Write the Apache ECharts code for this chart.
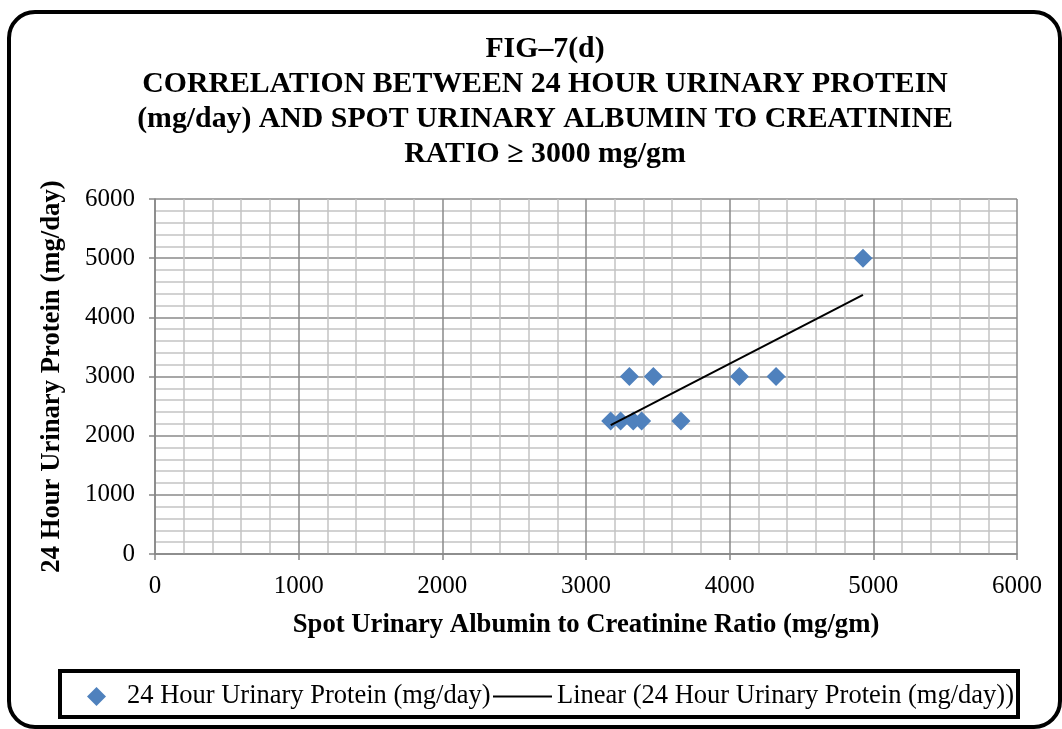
<!DOCTYPE html>
<html>
<head>
<meta charset="utf-8">
<script src="https://cdn.jsdelivr.net/npm/echarts@6/dist/echarts.min.js"></script>
<style>
  html, body { margin: 0; padding: 0; background: #fff; }
  #chart { width: 1062px; height: 729px; }
</style>
</head>
<body>
<div id="chart"></div>
<script>
// spot urinary albumin/creatinine ratio (mg/gm)
const acrValues = [3172, 3241, 3302, 3329, 3387, 3469, 3661, 4068, 4323, 4928];
// 24 hour urinary protein (mg/day)
const proteinValues = [2250, 2250, 3000, 2250, 2250, 3000, 2250, 3000, 3000, 5000];
const axisTicks = [0, 1000, 2000, 3000, 4000, 5000, 6000];

const seriesName = "24 Hour Urinary Protein (mg/day)";
const trendName = "Linear (24 Hour Urinary Protein (mg/day))";
const serif = "'Liberation Serif', 'DejaVu Serif', serif";

const points = acrValues.map((x, i) => [x, proteinValues[i]]);

// least squares trend line over min..max x
const n = acrValues.length;
const mx = acrValues.reduce((a, b) => a + b, 0) / n;
const my = proteinValues.reduce((a, b) => a + b, 0) / n;
let sxy = 0, sxx = 0;
for (let i = 0; i < n; i++) {
  sxy += (acrValues[i] - mx) * (proteinValues[i] - my);
  sxx += (acrValues[i] - mx) * (acrValues[i] - mx);
}
const slope = sxy / sxx;
const icpt = my - slope * mx;
const xMin = Math.min(...acrValues);
const xMax = Math.max(...acrValues);
const trend = [[xMin, icpt + slope * xMin], [xMax, icpt + slope * xMax]];

const axisCommon = {
  type: "value",
  min: axisTicks[0],
  max: axisTicks[axisTicks.length - 1],
  interval: 1000,
  nameLocation: "middle",
  nameTextStyle: { fontFamily: serif, fontSize: 26.7, fontWeight: "bold", color: "#000" },
  axisLine: { show: true, lineStyle: { color: "#868686", width: 1.5 } },
  axisTick: { show: true, length: 6, lineStyle: { color: "#868686", width: 1.5 } },
  minorTick: { show: false, splitNumber: 5 },
  splitLine: { show: true, lineStyle: { color: "#8a8a8a", width: 1.5 } },
  minorSplitLine: { show: true, lineStyle: { color: "#c4c4c4", width: 1.5 } },
  axisLabel: {
    fontFamily: serif, fontSize: 25, color: "#000", margin: 20,
    formatter: (v) => String(v),
  },
};

const legendText = { fontFamily: serif, fontSize: 26.5, color: "#000" };

const chart = echarts.init(document.getElementById("chart"));
chart.setOption({
  backgroundColor: "#fff",
  animation: false,
  title: {
    text: "FIG\u20137(d)\nCORRELATION BETWEEN 24 HOUR URINARY PROTEIN\n(mg/day) AND SPOT URINARY ALBUMIN TO CREATININE\nRATIO \u2265 3000 mg/gm",
    left: 540,
    top: 27,
    textAlign: "center",
    textStyle: { fontFamily: serif, fontSize: 29.8, fontWeight: "bold", color: "#000", lineHeight: 35 },
  },
  grid: { left: 155, right: 45, top: 199, bottom: 175 },
  xAxis: Object.assign({}, axisCommon, {
    name: "Spot Urinary Albumin to Creatinine Ratio (mg/gm)",
    nameGap: 58,
  }),
  yAxis: Object.assign({}, axisCommon, {
    name: "24 Hour Urinary Protein (mg/day)",
    nameGap: 89,
  }),
  legend: [
    {
      left: 87,
      top: 683,
      padding: 0,
      itemWidth: 19,
      itemHeight: 19,
      textStyle: Object.assign({ padding: [0, 0, 0, 16] }, legendText),
      data: [{ name: seriesName, icon: "diamond" }],
    },
    {
      left: 493,
      top: 683,
      padding: 0,
      itemWidth: 59,
      itemHeight: 2,
      textStyle: legendText,
      data: [{ name: trendName, icon: "rect", itemStyle: { color: "#000" } }],
    },
  ],
  graphic: [
    {
      type: "rect",
      shape: { x: 9, y: 12, width: 1051, height: 715, r: 26 },
      style: { fill: null, stroke: "#000", lineWidth: 4 },
      silent: true,
    },
    {
      type: "rect",
      shape: { x: 60, y: 671, width: 958, height: 46 },
      style: { fill: null, stroke: "#000", lineWidth: 4 },
      silent: true,
    },
  ],
  series: [
    {
      name: seriesName,
      type: "scatter",
      symbol: "diamond",
      symbolSize: 19,
      itemStyle: { color: "#4F81BD", opacity: 1 },
      data: points,
      z: 3,
    },
    {
      name: trendName,
      type: "line",
      symbol: "none",
      lineStyle: { color: "#000", width: 2 },
      data: trend,
      z: 4,
    },
  ],
});
</script>
</body>
</html>
